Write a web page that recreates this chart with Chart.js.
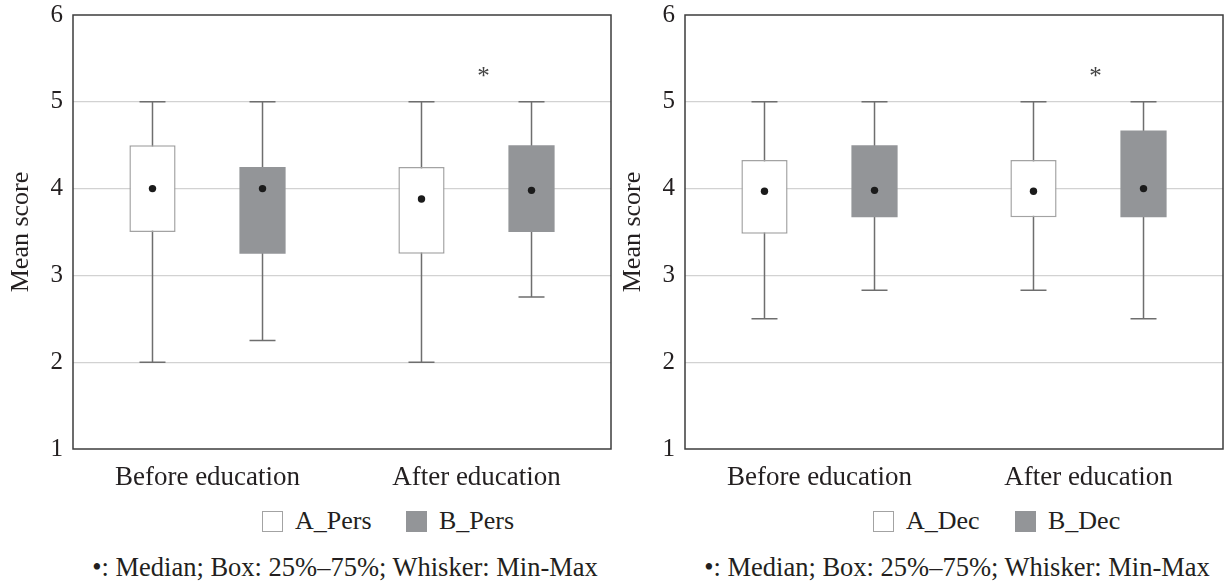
<!DOCTYPE html>
<html>
<head>
<meta charset="utf-8">
<script src="https://cdn.jsdelivr.net/npm/chart.js@4.4.1/dist/chart.umd.min.js"></script>
<style>
  body { margin: 0; background: #fff; width: 1224px; height: 583px; overflow: hidden; position: relative;
         font-family: "Liberation Serif", "Times New Roman", serif; color: #231f20; }
  .panel { position: absolute; top: 0; width: 612px; height: 500px; }
  .item { position: absolute; top: 506px; height: 30px; line-height: 30px; font-size: 26px; white-space: nowrap; }
  .swatch { display: inline-block; width: 21px; height: 21px; box-sizing: border-box; vertical-align: -3px; margin-right: 12px; }
  .sw-a { background: #fff; border: 1.5px solid #a3a3a3; }
  .sw-b { background: #939598; }
  .note { position: absolute; top: 552px; line-height: 30px; font-size: 26.5px; white-space: nowrap; transform: translateX(-50%); }
</style>
</head>
<body>
<div class="panel" style="left:0"><canvas id="pers"></canvas></div>
<div class="panel" style="left:612px"><canvas id="dec"></canvas></div>

<div class="item" style="left:262px"><span class="swatch sw-a"></span>A_Pers</div>
<div class="item" style="left:406px"><span class="swatch sw-b"></span>B_Pers</div>
<div class="item" style="left:873px"><span class="swatch sw-a"></span>A_Dec</div>
<div class="item" style="left:1015px"><span class="swatch sw-b"></span>B_Dec</div>

<div class="note" style="left:345px">•: Median; Box: 25%–75%; Whisker: Min-Max</div>
<div class="note" style="left:957px">•: Median; Box: 25%–75%; Whisker: Min-Max</div>

<script>
// Box plot summaries, one row per category: [min, q1, median, q3, max]
const categories = ["Before education", "After education"];
const yTicks = [1, 2, 3, 4, 5, 6];

const persA = [[2.0, 3.5, 4.0, 4.5, 5.0], [2.0, 3.25, 3.88, 4.25, 5.0]];
const persB = [[2.25, 3.25, 4.0, 4.25, 5.0], [2.75, 3.5, 3.98, 4.5, 5.0]];
const decA = [[2.5, 3.48, 3.97, 4.33, 5.0], [2.83, 3.67, 3.97, 4.33, 5.0]];
const decB = [[2.83, 3.67, 3.98, 4.5, 5.0], [2.5, 3.67, 4.0, 4.67, 5.0]];

// significance mark (*) per category, value where it sits
const sigMarks = [null, 5.33];

const FONT = "Liberation Serif";
const TEXT = "#231f20";

// ===== whiskers, caps, medians, frame =====
const boxExtras = {
  id: "boxExtras",
  beforeDatasetsDraw(chart) {
    const { ctx } = chart;
    const y = chart.scales.y;
    ctx.save();
    ctx.strokeStyle = "#6e6e6e";
    ctx.lineWidth = 1.5;
    chart.data.datasets.forEach((ds, i) => {
      chart.getDatasetMeta(i).data.forEach((el, j) => {
        const s = ds.stats[j];
        const top = y.getPixelForValue(s[4]);
        const bot = y.getPixelForValue(s[0]);
        ctx.beginPath();
        ctx.moveTo(el.x, top);
        ctx.lineTo(el.x, bot);
        ctx.moveTo(el.x - 13, top);
        ctx.lineTo(el.x + 13, top);
        ctx.moveTo(el.x - 13, bot);
        ctx.lineTo(el.x + 13, bot);
        ctx.stroke();
      });
    });
    ctx.restore();
  },
  afterDatasetsDraw(chart) {
    const { ctx, chartArea } = chart;
    const x = chart.scales.x;
    const y = chart.scales.y;
    ctx.save();
    ctx.fillStyle = "#1b1b1b";
    chart.data.datasets.forEach((ds, i) => {
      chart.getDatasetMeta(i).data.forEach((el, j) => {
        ctx.beginPath();
        ctx.arc(el.x, y.getPixelForValue(ds.stats[j][2]), 3.7, 0, Math.PI * 2);
        ctx.fill();
      });
    });
    ctx.fillStyle = "#444";
    ctx.font = "25px " + FONT;
    ctx.textAlign = "center";
    ctx.textBaseline = "middle";
    sigMarks.forEach((v, j) => {
      if (v === null) return;
      ctx.fillText("*", x.getPixelForValue(j) + 7, y.getPixelForValue(v) + 4);
    });
    ctx.strokeStyle = "#3d3d3d";
    ctx.lineWidth = 1.5;
    ctx.strokeRect(chartArea.left, chartArea.top, chartArea.right - chartArea.left, chartArea.bottom - chartArea.top);
    ctx.restore();
  },
};

function makeChart(id, seriesA, seriesB, labelA, labelB) {
  const ctx = document.getElementById(id).getContext("2d");
  return new Chart(ctx, {
    type: "bar",
    data: {
      labels: categories,
      datasets: [
        {
          label: labelA,
          stats: seriesA,
          data: seriesA.map((s) => [s[1], s[3]]),
          backgroundColor: "#ffffff",
          borderColor: "#a3a3a3",
          borderWidth: 1.5,
          borderSkipped: false,
        },
        {
          label: labelB,
          stats: seriesB,
          data: seriesB.map((s) => [s[1], s[3]]),
          backgroundColor: "#939598",
          borderWidth: 0,
        },
      ],
    },
    options: {
      responsive: false,
      animation: false,
      categoryPercentage: 0.818,
      barPercentage: 0.42,
      layout: { padding: { top: 15, right: 1, bottom: 0, left: 0 } },
      plugins: { legend: { display: false }, tooltip: { enabled: false } },
      scales: {
        x: {
          grid: { display: false },
          border: { display: false },
          ticks: { color: TEXT, font: { family: FONT, size: 27 }, padding: 5 },
          afterFit: (s) => { s.height = 51; },
        },
        y: {
          min: 1,
          max: 6,
          afterBuildTicks: (s) => { s.ticks = yTicks.map((v) => ({ value: v })); },
          grid: {
            drawTicks: false,
            lineWidth: 1.2,
            color: (c) => (c.tick && (c.tick.value === 1 || c.tick.value === 6) ? "rgba(0,0,0,0)" : "#d2d2d2"),
          },
          border: { display: false },
          ticks: { color: TEXT, font: { family: FONT, size: 25 }, padding: 10 },
          title: { display: true, text: "Mean score", color: TEXT, font: { family: FONT, size: 26 }, padding: { top: 6, bottom: 0 } },
          afterFit: (s) => {
            s.width = 73;
            s.paddingTop = 0;
            s.paddingBottom = 0;
          },
        },
      },
    },
    plugins: [boxExtras],
  });
}

for (const id of ["pers", "dec"]) {
  const c = document.getElementById(id);
  c.width = 612;
  c.height = 500;
}

makeChart("pers", persA, persB, "A_Pers", "B_Pers");
makeChart("dec", decA, decB, "A_Dec", "B_Dec");
</script>
</body>
</html>
